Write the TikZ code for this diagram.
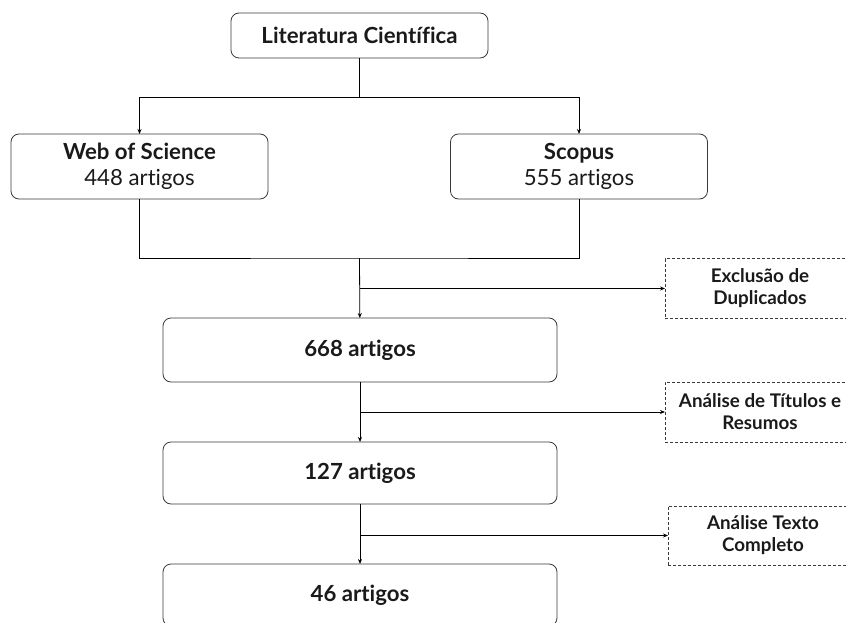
\documentclass[tikz,border=0pt]{standalone}
\usepackage{fontspec}
\setmainfont{Lato}[Ligatures={NoCommon,NoRare}]
\usepackage{tikz}
\usetikzlibrary{positioning,arrows.meta}
\definecolor{boxline}{HTML}{3A3A3A}
\definecolor{ink}{HTML}{1A1A1A}
\tikzset{
mainbox/.style = {draw=boxline, rounded corners=8pt, minimum width=#1, align=center,
  inner sep=0pt, outer sep=0pt, text=ink, font=\fontsize{22.2}{26}\selectfont},
mainbox/.default = 257pt, % width of the upper boxes
sidebox/.style = {draw=boxline, dash pattern=on 3pt off 2pt, minimum width=190pt,
  minimum height=60pt, align=center, inner sep=0pt, outer sep=0pt, text=ink,
  font=\fontsize{18.8}{22}\selectfont\bfseries}
}

\begin{document}
\begin{tikzpicture}[x=1pt, y=-1pt, line width=0.8pt, node distance=60pt,
      >={Stealth[length=5pt,width=4pt]}]
      \clip (0,0) rectangle (846,623);
      \node [mainbox, minimum height=45pt] (lit) at (359.5,35.5) {\textbf{Literatura Científica}};
      \node [mainbox, minimum height=65pt] (wos) at (139.5,166.5) {\textbf{Web of Science}\\448 artigos};
      \node [mainbox, minimum height=65pt] (sco) at (579,166.5) {\textbf{Scopus}\\555 artigos};
      \node [mainbox=394pt, minimum height=64pt] (n668) at (360,350) {\textbf{668 artigos}};
      \node [mainbox=394pt, minimum height=62pt, below=of n668] (n127) {\textbf{127 artigos}};
      \node [mainbox=394pt, minimum height=62pt, below=of n127] (n46) {\textbf{46 artigos}};
      % filtering steps
      \node [sidebox] (exc) at (760,288.5) {Exclusão de\\Duplicados};
      \node [sidebox] (tit) at (760,412) {Análise de Títulos e\\Resumos};
      \node [sidebox, minimum height=59pt] (txt) at (763,535.5) {Análise Texto\\Completo};
      \coordinate (split) at (359.5,97);
      \coordinate (merge) at (359.5,258);
      \draw (lit) -- (split);
      \draw [->] (split) -| (wos);
      \draw [->] (split) -| (sco);
      \draw (wos) |- (merge) -| (sco);
      \draw [->] (merge) -- (n668);
      \draw [->] (merge |- exc) -- (exc);
      \draw [->] (n668) -- (n127);
      \draw [->] (n668.south |- tit) -- (tit);
      \draw [->] (n127) -- (n46);
      \draw [->] (n127.south |- txt) -- (txt);
\end{tikzpicture}
\end{document}
